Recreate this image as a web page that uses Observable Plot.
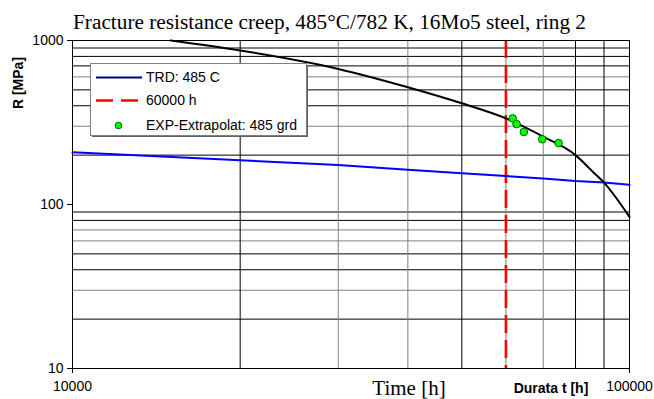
<!DOCTYPE html>
<html><head><meta charset="utf-8">
<script src="https://cdn.jsdelivr.net/npm/d3@7"></script>
<script src="https://cdn.jsdelivr.net/npm/@observablehq/plot@0.6"></script>
<style>body{margin:0;background:#fff;} #chart svg{display:block;}</style>
</head><body><div id="chart"></div>
<script>
// ---- data ----
const xTicks = [10000, 100000];
const yTicks = [10, 100, 1000];
const xGrid = [20000, 30000, 40000, 50000, 60000, 70000, 80000, 90000];
const yGrid = [20, 30, 40, 50, 60, 70, 80, 90, 200, 300, 400, 500, 600, 700, 800, 900];
const grayY = [30, 60, 70, 300, 600];
const grayX = [30000, 40000, 60000, 70000];

const trdTime = [10000, 20000, 30000, 40000, 50000, 60000, 70000, 80000, 90000, 100000];
const trdR    = [208, 186, 174, 163, 155, 149, 144, 139, 136, 132];

const curveTime = [15000, 20000, 30000, 40000, 50000, 60000, 70000, 80000, 86000, 90000, 100000];
const curveR    = [1000, 869, 671, 519, 414, 335, 259, 200, 158, 136, 84];

const expTime = [61700, 62700, 64600, 69700, 74600];
const expR    = [335, 309, 277, 250, 237];

const markerTime = [60000];

const title = "Fracture resistance creep, 485°C/782 K, 16Mo5 steel, ring 2";
const xLabel = "Time [h]";
const xLabel2 = "Durata t [h]";
const yLabel = "R [MPa]";
const legendItems = ["TRD: 485 C", "60000 h", "EXP-Extrapolat: 485 grd"];

// ---- build ----
const trd = trdTime.map((t, i) => ({t, r: trdR[i]}));
const curve = curveTime.map((t, i) => ({t, r: curveR[i]}));
const exp = expTime.map((t, i) => ({t, r: expR[i]}));

const chart = Plot.plot({
  width: 654, height: 399,
  marginLeft: 72, marginRight: 25, marginTop: 40, marginBottom: 31,
  style: {background: "#fff", fontFamily: "Arial, 'Liberation Sans', sans-serif", fontSize: "13.5px", color: "#000"},
  x: {type: "log", domain: [10000, 100000]},
  y: {type: "log", domain: [10, 1000]},
  marks: [
    Plot.ruleY(yGrid, {y: d => d, stroke: d => grayY.includes(d) ? "#808080" : "#000", strokeWidth: 1}),
    Plot.ruleX(xGrid, {x: d => d, stroke: d => grayX.includes(d) ? "#808080" : "#000", strokeWidth: 1}),
    Plot.ruleX(markerTime, {x: d => d, stroke: "#ff0000", strokeWidth: 2.6, strokeDasharray: "18,7"}),
    Plot.line(trd, {x: "t", y: "r", stroke: "#0000ff", strokeWidth: 2}),
    Plot.line(curve, {x: "t", y: "r", stroke: "#000", strokeWidth: 2, curve: "monotone-x"}),
    Plot.dot(exp, {x: "t", y: "r", r: 3.8, fill: "#00ff00", stroke: "#006400", strokeWidth: 1}),
    Plot.frame({stroke: "#000", strokeWidth: 1}),
    Plot.axisX(xTicks, {tickFormat: d3.format("d"), tickSize: 5, tickPadding: 8, label: null, stroke: "#000", fontSize: 14}),
    Plot.axisY(yTicks, {tickFormat: d3.format("d"), tickSize: 5, tickPadding: 4, label: null, stroke: "#000", fontSize: 14})
  ]
});
document.getElementById("chart").appendChild(chart);

// ---- annotations & legend ----
const svg = d3.select(chart);
svg.append("text").attr("x", 73).attr("y", 29).attr("text-anchor", "start")
  .attr("font-family", "'Liberation Serif', 'Times New Roman', serif").attr("font-size", 21.3)
  .attr("fill", "#000").text(title);
svg.append("text").attr("x", 409).attr("y", 395).attr("text-anchor", "middle")
  .attr("font-family", "'Liberation Serif', 'Times New Roman', serif").attr("font-size", 21)
  .attr("fill", "#000").text(xLabel);
svg.append("text").attr("x", 551).attr("y", 393).attr("text-anchor", "middle")
  .attr("font-family", "Arial, 'Liberation Sans', sans-serif").attr("font-size", 14).attr("font-weight", "bold")
  .attr("fill", "#000").text(xLabel2);
svg.append("text").attr("transform", "translate(23,83) rotate(-90)").attr("text-anchor", "middle")
  .attr("font-family", "Arial, 'Liberation Sans', sans-serif").attr("font-size", 14).attr("font-weight", "bold")
  .attr("fill", "#000").text(yLabel);

const lg = svg.append("g");
lg.append("rect").attr("x", 92).attr("y", 65).attr("width", 216).attr("height", 72).attr("fill", "#606060");
lg.append("rect").attr("x", 90.5).attr("y", 63.5).attr("width", 216).attr("height", 72)
  .attr("fill", "#fff").attr("stroke", "#808080").attr("stroke-width", 1);
lg.append("line").attr("x1", 96).attr("x2", 142).attr("y1", 77.5).attr("y2", 77.5)
  .attr("stroke", "#000080").attr("stroke-width", 2);
lg.append("line").attr("x1", 96).attr("x2", 142).attr("y1", 100.5).attr("y2", 100.5)
  .attr("stroke", "#ff0000").attr("stroke-width", 2.6).attr("stroke-dasharray", "17,8");
lg.append("circle").attr("cx", 118.5).attr("cy", 125.5).attr("r", 3.3)
  .attr("fill", "#00ff00").attr("stroke", "#006400");
legendItems.forEach((s, i) => {
  lg.append("text").attr("x", 146).attr("y", [77.5, 100.5, 125.5][i]).attr("dy", "0.35em")
    .attr("text-anchor", "start")
    .attr("font-family", "Arial, 'Liberation Sans', sans-serif").attr("font-size", 14)
    .attr("fill", "#000").text(s);
});
</script>
</body></html>
